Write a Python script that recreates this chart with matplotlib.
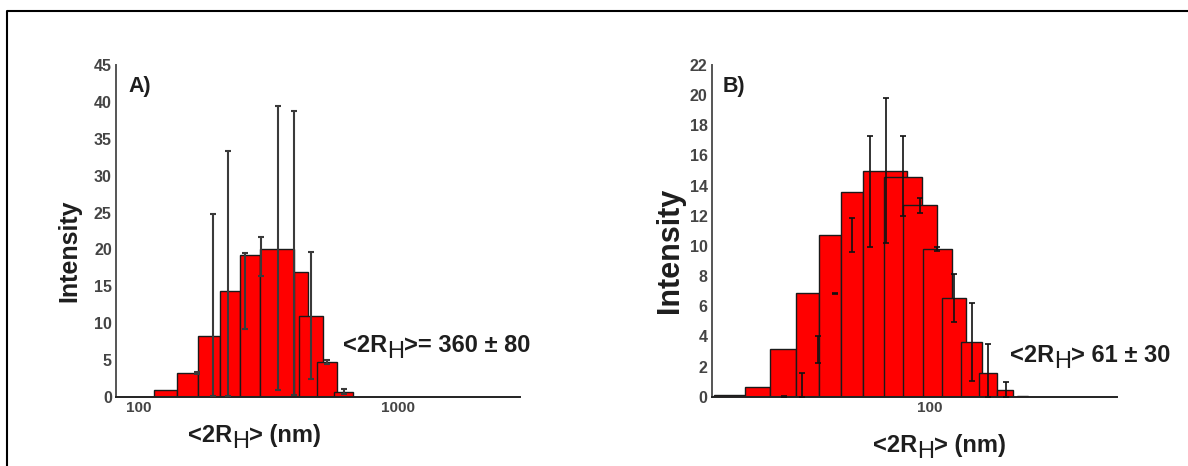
import numpy as np
import matplotlib
matplotlib.use("Agg")
import matplotlib.pyplot as plt
from matplotlib.ticker import NullLocator, FixedLocator, FixedFormatter

plt.rcParams['font.family'] = ['Liberation Sans', 'DejaVu Sans']

# ---------------- data (panel A) ----------------
a_left = [115.2, 140.9, 170.1, 206.2, 246.1, 293.8, 398.1, 415.0, 485.5, 567.5]
a_right = [140.9, 170.1, 206.2, 246.1, 293.8, 398.1, 450.6, 514.6, 582.9, 671.2]
a_height = [1.0, 3.2, 8.3, 14.35, 19.2, 20.1, 17.0, 11.0, 4.8, 0.7]
a_err_x = [167.8, 193.3, 221.9, 257.3, 295.7, 345.5, 397.1, 461.5, 530.3, 618.3]
a_err_lo = [3.1, 0.2, 0.2, 9.2, 16.4, 0.9, 0.3, 2.5, 4.5, 0.45]
a_err_hi = [3.4, 24.8, 33.3, 19.5, 21.7, 39.4, 38.8, 19.7, 5.0, 1.1]
a_yticks = [0, 5, 10, 15, 20, 25, 30, 35, 40, 45]
a_xticks = [100, 1000]
a_xticklabels = ['100', '1000']

# ---------------- data (panel B) ----------------
b_left = [14.8, 19.5, 24.4, 30.7, 37.6, 45.8, 55.4, 67.0, 79.3, 94.7, 111.4, 132.2, 155.0, 181.3, 216.4]
b_right = [19.5, 24.4, 30.7, 37.6, 45.8, 55.4, 81.7, 93.3, 106.6, 121.7, 138.2, 158.8, 181.3, 210.0, 239.9]
b_height = [0.08, 0.62, 3.14, 6.86, 10.7, 13.6, 15.0, 14.6, 12.7, 9.77, 6.57, 3.6, 1.55, 0.44, 0.06]
b_err_x = [27.4, 32.25, 37.35, 43.3, 50.2, 59.05, 68.0, 79.3, 91.9, 107.2, 124.2, 145.3, 168.3, 196.9]
b_err_lo = [0.0, 0.0, 2.26, 6.8, 9.57, 9.95, 10.17, 12.0, 12.2, 9.68, 4.93, 1.04, 0.0, 0.0]
b_err_hi = [0.06, 1.55, 4.02, 6.9, 11.87, 17.3, 19.83, 17.29, 13.16, 9.9, 8.14, 6.23, 3.47, 0.95]
b_yticks = [0, 2, 4, 6, 8, 10, 12, 14, 16, 18, 20, 22]
b_xticks = [100]
b_xticklabels = ['100']

W, H = 1188, 466
fig = plt.figure(figsize=(W / 100, H / 100), dpi=100)

def px_axes(l, t, r, b):
    return fig.add_axes([l / W, 1 - b / H, (r - l) / W, (b - t) / H])

axA = px_axes(116, 65, 520, 397)
axB = px_axes(711.7, 65, 1116.7, 396.7)

def draw_panel(ax, left, right, height, ex, elo, ehi, yticks, xticks, xlabels,
               xlim, ylim, ecolor, elw):
    left = np.array(left); right = np.array(right)
    ax.set_xscale('log')
    ax.bar(left, height, width=right - left, align='edge', color='#ff0000',
           edgecolor='#1a1a1a', linewidth=1.0, zorder=2)
    lo = np.array(elo); hi = np.array(ehi)
    mid = (lo + hi) / 2
    ax.errorbar(ex, mid, yerr=[mid - lo, hi - mid], fmt='none', ecolor=ecolor,
                elinewidth=elw, capsize=2.5, capthick=elw, zorder=3)
    ax.set_xlim(*xlim)
    ax.set_ylim(*ylim)
    ax.xaxis.set_major_locator(FixedLocator(xticks))
    ax.xaxis.set_major_formatter(FixedFormatter(xlabels))
    ax.xaxis.set_minor_locator(NullLocator())
    ax.set_yticks(yticks)
    ax.tick_params(axis='both', length=0, colors='#444444')
    ax.tick_params(axis='y', labelsize=11.5, pad=3)
    ax.tick_params(axis='x', labelsize=11, pad=3)
    for lab in ax.get_xticklabels() + ax.get_yticklabels():
        lab.set_fontweight('bold')
    for s in ('top', 'right'):
        ax.spines[s].set_visible(False)
    ax.spines['left'].set_color('#555555')
    ax.spines['left'].set_linewidth(1.4)
    ax.spines['bottom'].set_color('#222222')
    ax.spines['bottom'].set_linewidth(1.4)
    ax.patch.set_alpha(0)

draw_panel(axA, a_left, a_right, a_height, a_err_x, a_err_lo, a_err_hi,
           a_yticks, a_xticks, a_xticklabels, (82, 2940), (0, 45), '#3a3a3a', 1.5)
draw_panel(axB, b_left, b_right, b_height, b_err_x, b_err_lo, b_err_hi,
           b_yticks, b_xticks, b_xticklabels, (14.5, 525), (0, 22), '#111111', 1.2)

# overlay in pixel coordinates for text and frame
ov = fig.add_axes([0, 0, 1, 1], zorder=5)
ov.set_xlim(0, W); ov.set_ylim(H, 0)
ov.axis('off')

ov.plot([7, 7, W + 5], [H + 5, 10.5, 10.5], color='black', lw=1.5, clip_on=False)

tc = '#1e1e1e'
ov.text(128, 92, 'A)', fontsize=15.5, fontweight='bold', color=tc, va='baseline')
ov.text(723, 92, 'B)', fontsize=15.5, fontweight='bold', color=tc, va='baseline')
ov.text(69, 251, 'Intensity', fontsize=18, fontweight='bold', color=tc,
        rotation=90, ha='center', va='center')
ov.text(670, 250, 'Intensity', fontsize=22, fontweight='bold', color=tc,
        rotation=90, ha='center', va='center')

def sub_label(x, yb, pre, sub, post, size, drop):
    t1 = ov.text(x, yb, pre, fontsize=size, fontweight='bold', color=tc,
                 va='baseline', ha='left')
    t2 = ov.annotate(sub, xy=(1, yb + drop), xycoords=(t1, 'data'), fontsize=size,
                     fontweight='normal', color=tc, va='baseline', ha='left')
    ov.annotate(post, xy=(1, yb), xycoords=(t2, 'data'), fontsize=size,
                fontweight='bold', color=tc, va='baseline', ha='left')

sub_label(188, 441.7, '<2R', 'H', '> (nm)', 17, 6.5)
sub_label(873, 451.7, '<2R', 'H', '> (nm)', 17, 6.0)
sub_label(342.7, 351.7, '<2R', 'H', '>= 360 \u00b1 80', 17, 6.5)
sub_label(1010, 361.7, '<2R', 'H', '> 61 \u00b1 30', 17, 6.5)

fig.savefig('out.png', dpi=100)
